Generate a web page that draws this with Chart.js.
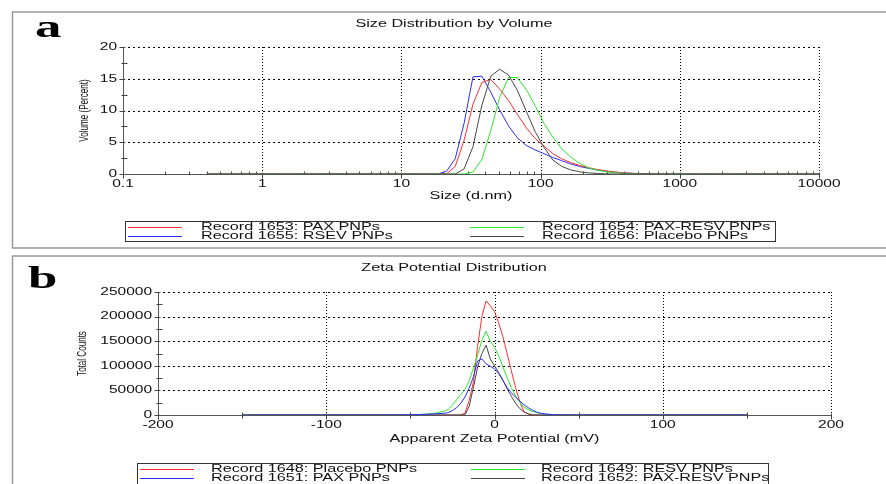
<!DOCTYPE html>
<html>
<head>
<meta charset="utf-8">
<script src="https://cdn.jsdelivr.net/npm/chart.js@4"></script>
<style>
  body { margin: 0; background: #fff; }
  .panel { position: absolute; left: 0; }
  #sizePanel { top: 0; }
  #zetaPanel { top: 250px; }
</style>
</head>
<body>
<div class="panel" id="sizePanel"><canvas id="sizeChart" width="886" height="250"></canvas></div>
<div class="panel" id="zetaPanel"><canvas id="zetaChart" width="886" height="234"></canvas></div>
<script>
// ---- size distribution (volume %) ----
const sizeBins = [0.4, 0.4632, 0.5365, 0.6213, 0.7195, 0.8332, 0.9649, 1.117, 1.294, 1.499,
  1.736, 2.010, 2.328, 2.696, 3.122, 3.615, 4.187, 4.849, 5.615, 6.503,
  7.531, 8.721, 10.10, 11.70, 13.54, 15.69, 18.17, 21.04, 24.36, 28.21,
  32.67, 37.84, 43.82, 50.75, 58.77, 68.06, 78.82, 91.28, 105.7, 122.4,
  141.8, 164.2, 190.1, 220.2, 255.0, 295.3, 342.0, 396.1, 458.7, 531.2,
  615.1, 712.4, 825.0, 955.4, 1106, 1281, 1484, 1718, 1990, 2305,
  2669, 3091, 3580, 4145, 4801, 5560, 6439, 7456, 8635, 10000];

const vol1653 = [0, 0, 0, 0, 0, 0, 0, 0, 0, 0,
  0, 0, 0, 0, 0, 0, 0, 0, 0, 0,
  0, 0, 0, 0, 0, 0, 0, 0, 1.2, 5.3,
  11.0, 14.4, 14.9, 13.4, 11.6, 9.4, 7.3, 5.6, 4.4, 3.2,
  2.4, 1.8, 1.35, 1.0, 0.7, 0.48, 0.3, 0.18, 0.1, 0.04,
  0, 0, 0, 0, 0, 0, 0, 0, 0, 0,
  0, 0, 0, 0, 0, 0, 0, 0, 0, 0];
const vol1654 = [0, 0, 0, 0, 0, 0, 0, 0, 0, 0,
  0, 0, 0, 0, 0, 0, 0, 0, 0, 0,
  0, 0, 0, 0, 0, 0, 0, 0, 0, 0,
  0.3, 2.3, 6.8, 12.0, 15.2, 15.2, 13.3, 10.8, 8.0, 5.8,
  4.0, 2.7, 1.7, 1.0, 0.6, 0.35, 0.2, 0.1, 0.05, 0,
  0, 0, 0, 0, 0, 0, 0, 0, 0, 0,
  0, 0, 0, 0, 0, 0, 0, 0, 0, 0];
const vol1655 = [0, 0, 0, 0, 0, 0, 0, 0, 0, 0,
  0, 0, 0, 0, 0, 0, 0, 0, 0, 0,
  0, 0, 0, 0, 0, 0, 0, 0.4, 2.4, 8.0,
  15.3, 15.4, 12.9, 10.1, 7.6, 5.7, 4.5, 3.8, 3.2, 2.6,
  2.1, 1.6, 1.2, 0.9, 0.65, 0.45, 0.3, 0.18, 0.1, 0.04,
  0, 0, 0, 0, 0, 0, 0, 0, 0, 0,
  0, 0, 0, 0, 0, 0, 0, 0, 0, 0];
const vol1656 = [0, 0, 0, 0, 0, 0, 0, 0, 0, 0,
  0, 0, 0, 0, 0, 0, 0, 0, 0, 0,
  0, 0, 0, 0, 0, 0, 0, 0, 0, 0.8,
  4.3, 10.8, 15.4, 16.5, 15.6, 13.2, 9.9, 6.7, 4.2, 2.2,
  1.2, 0.65, 0.35, 0.18, 0.08, 0.03, 0, 0, 0, 0,
  0, 0, 0, 0, 0, 0, 0, 0, 0, 0,
  0, 0, 0, 0, 0, 0, 0, 0, 0, 0];

const sizeTicks = [0.1, 1, 10, 100, 1000, 10000];
const sizeTickLabels = ['0.1', '1', '10', '100', '1000', '10000'];
const volTicks = [0, 5, 10, 15, 20];

// ---- zeta potential (total counts) ----
const zetaMv = [-150, -60, -50, -45, -40, -35, -30, -27.5, -25, -22.5,
  -20, -17.5, -15, -12.5, -10, -7.5, -5, -2.5, 0, 2.5,
  5, 7.5, 10, 12.5, 15, 17.5, 20, 22.5, 25, 27.5,
  30, 35, 40, 45, 50, 60, 150];
const cnt1648 = [0, 0, 0, 0, 0, 0, 0, 0, 0, 0,
  0, 4000, 30000, 68000, 141000, 200000, 232000, 222000, 210000, 187000,
  159000, 125000, 90000, 56000, 27000, 7000, 2000, 0, 0, 0,
  0, 0, 0, 0, 0, 0, 0];
const cnt1649 = [0, 0, 500, 1000, 2000, 4000, 7500, 11500, 20000, 31000,
  42000, 52000, 70000, 95000, 122000, 152000, 170000, 150000, 137000, 120000,
  98000, 76000, 56000, 39000, 26000, 16000, 11000, 7500, 5000, 3000,
  1800, 600, 200, 0, 0, 0, 0];
const cnt1651 = [0, 0, 500, 1000, 1500, 2500, 3500, 4700, 9000, 15000,
  24000, 37000, 55000, 78000, 110000, 114000, 104000, 99000, 94000, 84000,
  70000, 56000, 45000, 36000, 28500, 21000, 15000, 10000, 6000, 3500,
  2000, 600, 200, 0, 0, 0, 0];
const cnt1652 = [0, 0, 0, 0, 0, 0, 0, 0, 0, 0,
  0, 500, 18000, 57000, 98000, 125000, 142000, 114000, 100000, 86000,
  71000, 53000, 38000, 24000, 13000, 6000, 2500, 500, 0, 0,
  0, 0, 0, 0, 0, 0, 0];

const zetaTicks = [-200, -100, 0, 100, 200];
const countTicks = [0, 50000, 100000, 150000, 200000, 250000];

const RED = 'rgb(255, 45, 45)';
const GREEN = 'rgb(40, 235, 40)';
const BLUE = 'rgb(45, 45, 255)';
const GREY = 'rgb(70, 70, 70)';

const SANS = '"Liberation Sans", Arial, sans-serif';

// text in the instrument export is drawn wide, so squeeze/stretch by hand
function wideText(ctx, str, x, y, size, align, sx) {
  ctx.save();
  ctx.translate(x, y);
  ctx.scale(sx, 1);
  ctx.font = size + 'px ' + SANS;
  ctx.textAlign = align;
  ctx.textBaseline = 'middle';
  ctx.fillStyle = '#111';
  ctx.fillText(str, 0, 0);
  ctx.restore();
}

function seg(ctx, x1, y1, x2, y2) {
  ctx.beginPath();
  ctx.moveTo(x1, y1);
  ctx.lineTo(x2, y2);
  ctx.stroke();
}

function decor(p) {
  return {
    id: 'decor',
    beforeDatasetsDraw(chart) {
      const { ctx, chartArea: a, scales: { x, y } } = chart;
      ctx.save();
      ctx.strokeStyle = '#000';
      ctx.lineWidth = 1;
      // dotted verticals, dashed horizontals
      ctx.setLineDash([1, 2]);
      p.xGrid.forEach(v => {
        const px = Math.round(x.getPixelForValue(v)) + 0.5;
        seg(ctx, px, a.top, px, a.bottom);
      });
      ctx.setLineDash([2, 3]);
      p.yGrid.forEach(v => {
        const py = Math.round(y.getPixelForValue(v)) + 0.5;
        seg(ctx, a.left, py, a.right, py);
      });
      ctx.setLineDash([]);
      ctx.strokeStyle = '#444';
      const ax = Math.round(a.left) + 0.5;
      const ay = Math.round(a.bottom) + 0.5;
      p.yMajor.forEach(v => {
        const py = Math.round(y.getPixelForValue(v)) + 0.5;
        seg(ctx, ax - 4, py, ax + 2, py);
      });
      p.yMinor.forEach(v => {
        const py = Math.round(y.getPixelForValue(v)) + 0.5;
        seg(ctx, ax - 2, py, ax + 4, py);
      });
      p.xMajor.forEach(v => {
        const px = Math.round(x.getPixelForValue(v)) + 0.5;
        seg(ctx, px, ay - 2, px, ay + 4);
      });
      p.xMinor.forEach(v => {
        const px = Math.round(x.getPixelForValue(v)) + 0.5;
        seg(ctx, px, ay - 3, px, ay + p.minorDown);
      });
      ctx.restore();
    },
    afterDraw(chart) {
      const { ctx, chartArea: a, scales: { x, y } } = chart;
      const W = chart.width, H = chart.height;
      ctx.save();
      // panel frame
      ctx.strokeStyle = '#999';
      ctx.lineWidth = 1.5;
      ctx.beginPath();
      ctx.moveTo(W, p.frameTop);
      ctx.lineTo(12.5, p.frameTop);
      ctx.lineTo(12.5, p.frameBottom);
      if (p.frameBottom < H) ctx.lineTo(W, p.frameBottom);
      ctx.stroke();

      // panel letter
      ctx.save();
      ctx.translate(p.letterX, p.letterY);
      ctx.scale(1.65, 1);
      ctx.font = 'bold 32px "Liberation Serif", "Times New Roman", serif';
      ctx.fillStyle = '#000';
      ctx.textBaseline = 'alphabetic';
      ctx.fillText(p.letter, 0, 0);
      ctx.restore();

      wideText(ctx, p.title, 454, p.titleY, 10, 'center', 1.62);
      wideText(ctx, p.xTitle, (a.left + a.right) / 2, a.bottom + p.xTitleGap, 10, 'center', 1.62);

      // narrow rotated value-axis caption
      ctx.save();
      ctx.translate(p.yTitleX, (a.top + a.bottom) / 2);
      ctx.rotate(-Math.PI / 2);
      ctx.scale(0.62, 1);
      ctx.font = '13px ' + SANS;
      ctx.textAlign = 'center';
      ctx.textBaseline = 'middle';
      ctx.fillStyle = '#111';
      ctx.fillText(p.yTitle, 0, 0);
      ctx.restore();

      p.xTicks.forEach((v, i) => {
        wideText(ctx, p.xTickLabels[i], x.getPixelForValue(v), a.bottom + 10, 10, 'center', 1.55);
      });
      p.yTicks.forEach(v => {
        wideText(ctx, String(v), a.left - 6, y.getPixelForValue(v), 10, 'right', 1.55);
      });

      // legend block: frame, labels, then the colour swatches on top
      const L = p.legend;
      ctx.strokeStyle = '#333';
      ctx.lineWidth = 1;
      ctx.strokeRect(L.x + 0.5, L.y + 0.5, L.w, L.h);
      const rowY = i => Math.round(L.y + L.row0 + Math.floor(i / 2) * 9) + 0.5;
      L.items.forEach((it, i) => {
        wideText(ctx, it.label, L.textX[i % 2], rowY(i), 10, 'left', 1.62);
      });
      L.items.forEach((it, i) => {
        ctx.strokeStyle = it.color;
        seg(ctx, L.lineX[i % 2], rowY(i), L.lineX[i % 2] + 54, rowY(i));
      });
      ctx.restore();
    }
  };
}

function lineSet(label, xs, ys, color) {
  return {
    label,
    data: xs.map((v, i) => ({ x: v, y: ys[i] })),
    borderColor: color,
    backgroundColor: color,
    borderWidth: 1,
    pointRadius: 0,
    tension: 0,
    fill: false
  };
}

function axisOpts(type, min, max) {
  return {
    type, min, max,
    ticks: { display: false },
    grid: { display: false, drawTicks: false },
    border: { display: true, color: '#555', width: 1 },
    title: { display: false }
  };
}

const sizeDecades = [0.1, 1, 10, 100, 1000];
const sizeMinor = [];
sizeDecades.forEach(d => { for (let m = 2; m <= 9; m++) sizeMinor.push(d * m); });

new Chart(document.getElementById('sizeChart'), {
  type: 'line',
  data: {
    datasets: [
      lineSet('Record 1656: Placebo PNPs', sizeBins, vol1656, GREY),
      lineSet('Record 1654: PAX-RESV PNPs', sizeBins, vol1654, GREEN),
      lineSet('Record 1653: PAX PNPs', sizeBins, vol1653, RED),
      lineSet('Record 1655: RSEV PNPs', sizeBins, vol1655, BLUE)
    ]
  },
  options: {
    responsive: false,
    animation: false,
    devicePixelRatio: 1,
    layout: { padding: { left: 123, right: 67, top: 47, bottom: 76 } },
    plugins: { legend: { display: false }, title: { display: false }, tooltip: { enabled: false } },
    scales: {
      x: axisOpts('logarithmic', 0.1, 10000),
      y: axisOpts('linear', 0, 20)
    }
  },
  plugins: [decor({
    letter: 'a', letterX: 35, letterY: 37,
    frameTop: 12, frameBottom: 248,
    title: 'Size Distribution by Volume', titleY: 24,
    xTitle: 'Size (d.nm)', xTitleGap: 22,
    yTitle: 'Volume (Percent)', yTitleX: 84,
    xTicks: sizeTicks, xTickLabels: sizeTickLabels, yTicks: volTicks,
    xGrid: [1, 10, 100, 1000, 10000], yGrid: [5, 10, 15, 20],
    xMajor: sizeTicks, xMinor: sizeMinor, minorDown: 0,
    yMajor: volTicks, yMinor: [2.5, 7.5, 12.5, 17.5],
    legend: {
      x: 125, y: 221, w: 650, h: 20, row0: 6,
      lineX: [128, 470], textX: [201, 542],
      items: [
        { label: 'Record 1653: PAX PNPs', color: RED },
        { label: 'Record 1654: PAX-RESV PNPs', color: GREEN },
        { label: 'Record 1655: RSEV PNPs', color: BLUE },
        { label: 'Record 1656: Placebo PNPs', color: GREY }
      ]
    }
  })]
});

new Chart(document.getElementById('zetaChart'), {
  type: 'line',
  data: {
    datasets: [
      lineSet('Record 1651: PAX PNPs', zetaMv, cnt1651, BLUE),
      lineSet('Record 1652: PAX-RESV PNPs', zetaMv, cnt1652, GREY),
      lineSet('Record 1649: RESV PNPs', zetaMv, cnt1649, GREEN),
      lineSet('Record 1648: Placebo PNPs', zetaMv, cnt1648, RED)
    ]
  },
  options: {
    responsive: false,
    animation: false,
    devicePixelRatio: 1,
    layout: { padding: { left: 158, right: 55, top: 42, bottom: 69 } },
    plugins: { legend: { display: false }, title: { display: false }, tooltip: { enabled: false } },
    scales: {
      x: axisOpts('linear', -200, 200),
      y: axisOpts('linear', 0, 250000)
    }
  },
  plugins: [decor({
    letter: 'b', letterX: 28, letterY: 38,
    frameTop: 6, frameBottom: 240,
    title: 'Zeta Potential Distribution', titleY: 18,
    xTitle: 'Apparent Zeta Potential (mV)', xTitleGap: 24,
    yTitle: 'Total Counts', yTitleX: 82,
    xTicks: zetaTicks, xTickLabels: zetaTicks.map(String), yTicks: countTicks,
    xGrid: [-100, 0, 100, 200], yGrid: [50000, 100000, 150000, 200000, 250000],
    xMajor: zetaTicks, xMinor: [-150, -50, 50, 150], minorDown: 3,
    yMajor: countTicks, yMinor: [25000, 75000, 125000, 175000, 225000],
    legend: {
      x: 137, y: 213, w: 631, h: 21, row0: 6,
      lineX: [140, 471], textX: [211, 541],
      items: [
        { label: 'Record 1648: Placebo PNPs', color: RED },
        { label: 'Record 1649: RESV PNPs', color: GREEN },
        { label: 'Record 1651: PAX PNPs', color: BLUE },
        { label: 'Record 1652: PAX-RESV PNPs', color: GREY }
      ]
    }
  })]
});
</script>
</body>
</html>
